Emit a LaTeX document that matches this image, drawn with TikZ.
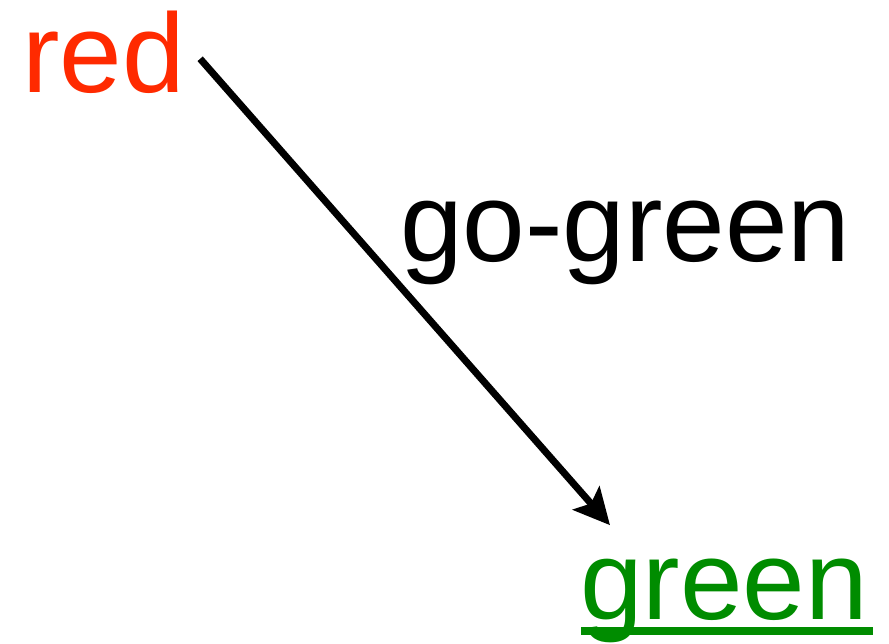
\documentclass[tikz,border=0pt]{standalone}
\usepackage{fontspec}
\setmainfont{Liberation Sans}
\usetikzlibrary{arrows.meta}

\definecolor{stRed}{HTML}{FF2A00}
\definecolor{stGreen}{HTML}{008C00}
\definecolor{stInk}{HTML}{000000}

\begin{document}
\begin{tikzpicture}[
  x=0.025cm, y=0.025cm,
  font=\fontsize{80}{92}\selectfont,
  st state/.style={inner sep=0pt,anchor=base west},
  st edge/.style={draw=stInk,line width=5pt,
    -{Stealth[length=0.9cm,width=0.88cm,inset=0.18cm]}},
  st mark/.style={draw=stGreen,line width=5.6pt,line cap=butt}
]
% Frame of the picture (pixel units, y upwards).
\useasboundingbox (0,0) rectangle (889,644);

% States and the transition label.
\node[st state,text=stRed] (red) at (22,551) {red};
\node[st state,text=stGreen] (green) at (580,24) {green};
\node[st state,text=stInk] (gogreen) at (400,382) {go-green};

% Underline of the target state.
\draw[st mark] ([shift={(1,-11)}]green.base west)
  -- ([shift={(5,-11)}]green.base east);

% Transition.
\draw[st edge] ([shift={(15,-6)}]red.east)
  -- ([shift={(30,34)}]green.north west);
\end{tikzpicture}
\end{document}
